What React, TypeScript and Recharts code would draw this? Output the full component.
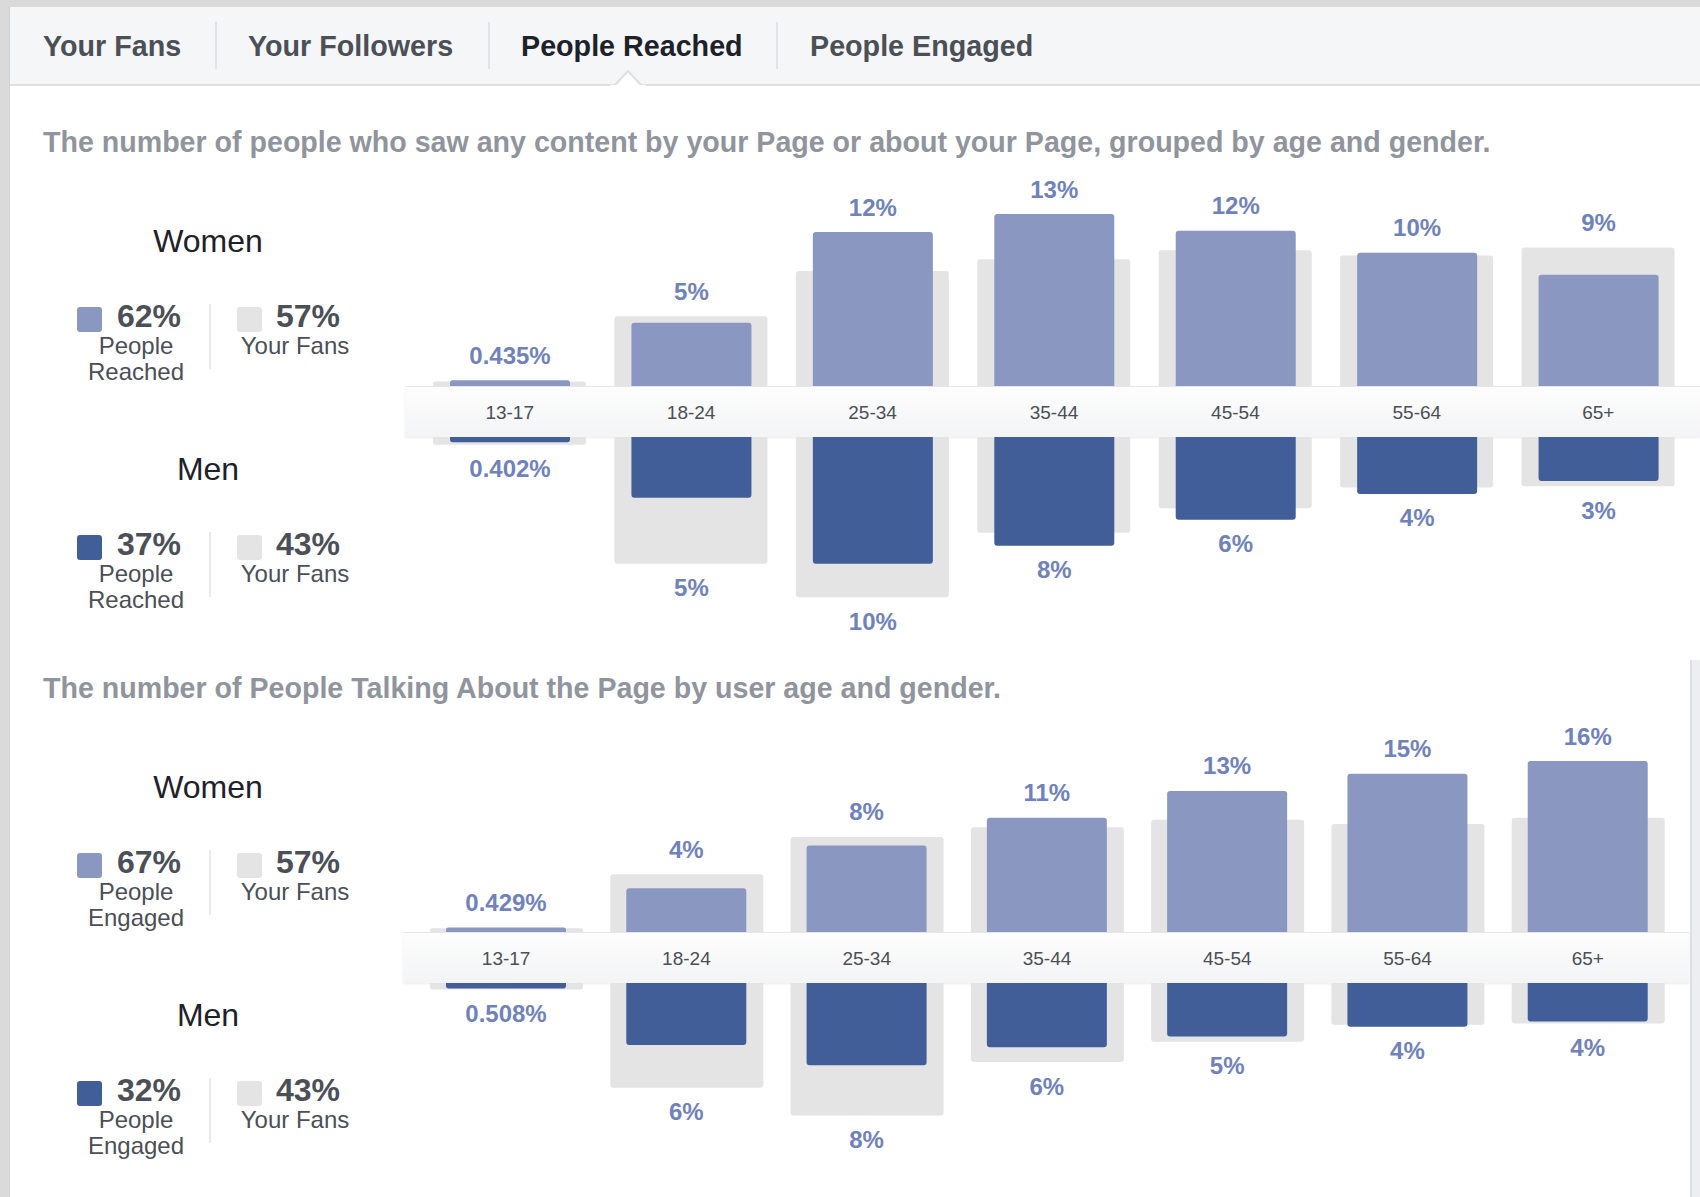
import React from 'react';
import { BarChart, Bar, XAxis, YAxis, LabelList } from 'recharts';

const ageGroups = ['13-17', '18-24', '25-34', '35-44', '45-54', '55-64', '65+'];

// percentages per age group
const womenReached = [0.435, 4.9, 11.9, 13.3, 12.0, 10.3, 8.6];
const menReached = [0.402, 4.7, 9.8, 8.4, 6.4, 4.4, 3.4];
const womenEngaged = [0.429, 4.1, 8.1, 10.7, 13.2, 14.8, 16.0];
const menEngaged = [0.508, 5.8, 7.7, 6.0, 5.0, 4.1, 3.6];
const womenFans = [0.35, 5.4, 8.9, 9.8, 10.5, 10.1, 10.7];
const menFans = [0.6, 9.8, 12.4, 7.4, 5.5, 3.9, 3.8];

const tabs = ['Your Fans', 'Your Followers', 'People Reached', 'People Engaged'];
const reachedTotals = { women: 62, men: 37 };
const engagedTotals = { women: 67, men: 32 };
const fansTotals = { women: 57, men: 43 };

const FONT = "'Liberation Sans', Arial, Helvetica, sans-serif";
const LIGHT = '#8a97c0';
const DARK = '#425e99';
const GREY = '#e4e4e4';
const LABEL = '#7082ba';

const fmt = (v: number) => (v < 1 ? `${v.toFixed(3)}%` : `${Math.round(v)}%`);

const AgeTick = (props: any) => {
  const { x, y, payload } = props;
  return (
    <text x={x} y={y - 25} textAnchor="middle" dominantBaseline="central"
      fontFamily={FONT} fontSize={19} fill="#4b4f56">
      {payload.value}
    </text>
  );
};

const makeLabel = (down: boolean) => (props: any) => {
  const { x, y, width, height, value } = props;
  const top = Math.min(y, y + height);
  const bottom = Math.max(y, y + height);
  const cy = down ? bottom + 24 : top - 25;
  return (
    <text x={x + width / 2} y={cy} textAnchor="middle" dominantBaseline="central"
      fontFamily={FONT} fontSize={24} fontWeight="bold" fill={LABEL}>
      {fmt(value)}
    </text>
  );
};

interface HalfProps {
  people: number[];
  fans: number[];
  max: number;
  down: boolean;
  left: number;
  top: number;
  height: number;
  margin: { top: number; right: number; bottom: number; left: number };
}

function Half({ people, fans, max, down, left, top, height, margin }: HalfProps) {
  const data = ageGroups.map((age, i) => ({
    age,
    people: people[i],
    fans: fans[i],
    peak: Math.max(people[i], fans[i]),
  }));
  return (
    <div style={{ position: 'absolute', left, top }}>
      <BarChart width={1300} height={height} data={data} margin={margin}>
        <XAxis xAxisId="fans" dataKey="age" hide />
        <XAxis xAxisId="peak" dataKey="age" hide />
        <XAxis
          xAxisId="people"
          dataKey="age"
          orientation="top"
          height={51}
          hide={!down}
          axisLine={false}
          tickLine={false}
          tickSize={0}
          tickMargin={0}
          interval={0}
          tick={<AgeTick />}
        />
        <YAxis domain={[0, max]} hide reversed={down} />
        <Bar xAxisId="fans" dataKey="fans" fill={GREY} barSize={153} radius={[3, 3, 0, 0]} isAnimationActive={false} />
        <Bar xAxisId="people" dataKey="people" fill={down ? DARK : LIGHT} barSize={120} radius={[3, 3, 0, 0]} isAnimationActive={false} />
        <Bar xAxisId="peak" dataKey="peak" fill="transparent" barSize={120} isAnimationActive={false}>
          <LabelList dataKey="people" content={makeLabel(down)} />
        </Bar>
      </BarChart>
    </div>
  );
}

const Band = ({ left, top, width }: { left: number; top: number; width: number }) => (
  <div
    style={{
      position: 'absolute',
      left,
      top,
      width,
      height: 51,
      boxSizing: 'border-box',
      background: 'linear-gradient(to bottom, #fdfdfd, #f3f4f6)',
      borderTop: '1px solid #e6e7e9',
      boxShadow: '0 1px 2px rgba(0,0,0,0.08)',
    }}
  />
);

function Legend({ base, word, people, fans }: { base: number; word: string; people: { women: number; men: number }; fans: { women: number; men: number } }) {
  const groups: Array<{ title: string; key: 'women' | 'men'; color: string; off: number }> = [
    { title: 'Women', key: 'women', color: LIGHT, off: 0 },
    { title: 'Men', key: 'men', color: DARK, off: 228 },
  ];
  const abs = (l: number, t: number): React.CSSProperties => ({ position: 'absolute', left: l, top: t });
  return (
    <>
      {groups.map((g) => {
        const y = base + g.off;
        return (
          <React.Fragment key={g.key}>
            <div style={{ ...abs(108, y - 20), width: 200, textAlign: 'center', fontSize: 32, lineHeight: '40px', color: '#1d2129' }}>{g.title}</div>
            <div style={{ ...abs(77, y + 66), width: 25, height: 25, borderRadius: 3, background: g.color }} />
            <div style={{ ...abs(117, y + 59), fontSize: 32, fontWeight: 'bold', lineHeight: '32px', color: '#4b4f56' }}>{people[g.key]}%</div>
            <div style={{ ...abs(66, y + 92), width: 140, textAlign: 'center', fontSize: 24, lineHeight: '26px', color: '#4b4f56' }}>
              People<br />{word}
            </div>
            <div style={{ ...abs(209, y + 63), width: 2, height: 65, background: '#e9eaed' }} />
            <div style={{ ...abs(237, y + 66), width: 25, height: 25, borderRadius: 3, background: GREY }} />
            <div style={{ ...abs(276, y + 59), fontSize: 32, fontWeight: 'bold', lineHeight: '32px', color: '#4b4f56' }}>{fans[g.key]}%</div>
            <div style={{ ...abs(225, y + 92), width: 140, textAlign: 'center', fontSize: 24, lineHeight: '26px', color: '#4b4f56' }}>Your Fans</div>
          </React.Fragment>
        );
      })}
    </>
  );
}

const tabLeft = [43, 248, 521, 810];
const sepLeft = [215, 488, 776];

export default function App() {
  const max1 = Math.max(...womenReached, ...menReached, ...womenFans, ...menFans);
  const max2 = Math.max(...womenEngaged, ...menEngaged, ...womenFans, ...menFans);
  return (
    <div style={{ position: 'absolute', left: 0, top: 0, width: 1700, height: 1197, background: '#dadada', overflow: 'hidden', fontFamily: FONT }}>
      <div style={{ position: 'absolute', left: 9, top: 7, width: 1691, height: 1190, background: '#fff', borderLeft: '1px solid #cfd1d5', boxSizing: 'border-box' }}>
        {/* right edge strip of the lower half */}
        <div style={{ position: 'absolute', left: 1680, top: 653, width: 11, height: 540, background: '#eceef1', borderLeft: '2px solid #dddfe2' }} />
      </div>

      {/* tab bar */}
      <div style={{ position: 'absolute', left: 10, top: 7, width: 1690, height: 77, background: '#f5f6f7', borderBottom: '2px solid #dddfe2' }} />
      {tabs.map((t, i) => (
        <div key={t} style={{ position: 'absolute', left: tabLeft[i], top: 28, fontSize: 28.7, lineHeight: '36px', fontWeight: 'bold', color: i === 2 ? '#1d2129' : '#4b4f56', whiteSpace: 'nowrap' }}>{t}</div>
      ))}
      {sepLeft.map((x) => (
        <div key={x} style={{ position: 'absolute', left: x, top: 22, width: 2, height: 47, background: '#e1e3e6' }} />
      ))}
      <svg style={{ position: 'absolute', left: 610, top: 68 }} width={36} height={20}>
        <polygon points="4,18 18,3 32,18" fill="#fff" stroke="#dddfe2" strokeWidth={2} />
        <rect x={0} y={17} width={36} height={3} fill="#fff" />
      </svg>

      {/* reached */}
      <div style={{ position: 'absolute', left: 43, top: 124, fontSize: 28.6, lineHeight: '36px', fontWeight: 'bold', color: '#90949c', whiteSpace: 'nowrap' }}>
        The number of people who saw any content by your Page or about your Page, grouped by age and gender.
      </div>
      <Legend base={241} word="Reached" people={reachedTotals} fans={fansTotals} />
      <Band left={405} top={386} width={1295} />
      <Half people={womenReached} fans={womenFans} max={max1} down={false} left={400} top={150} height={236}
        margin={{ top: 64, right: 11, bottom: 0, left: 19 }} />
      <Half people={menReached} fans={menFans} max={max1} down left={400} top={386} height={259}
        margin={{ top: 0, right: 11, bottom: 36, left: 19 }} />

      {/* engaged */}
      <div style={{ position: 'absolute', left: 43, top: 670, fontSize: 28.6, lineHeight: '36px', fontWeight: 'bold', color: '#90949c', whiteSpace: 'nowrap' }}>
        The number of People Talking About the Page by user age and gender.
      </div>
      <Legend base={787} word="Engaged" people={engagedTotals} fans={fansTotals} />
      <Band left={403} top={932} width={1286} />
      <Half people={womenEngaged} fans={womenFans} max={max2} down={false} left={400} top={706} height={226}
        margin={{ top: 55, right: 22, bottom: 0, left: 16 }} />
      <Half people={menEngaged} fans={menFans} max={max2} down left={400} top={932} height={258}
        margin={{ top: 0, right: 22, bottom: 36, left: 16 }} />
    </div>
  );
}
